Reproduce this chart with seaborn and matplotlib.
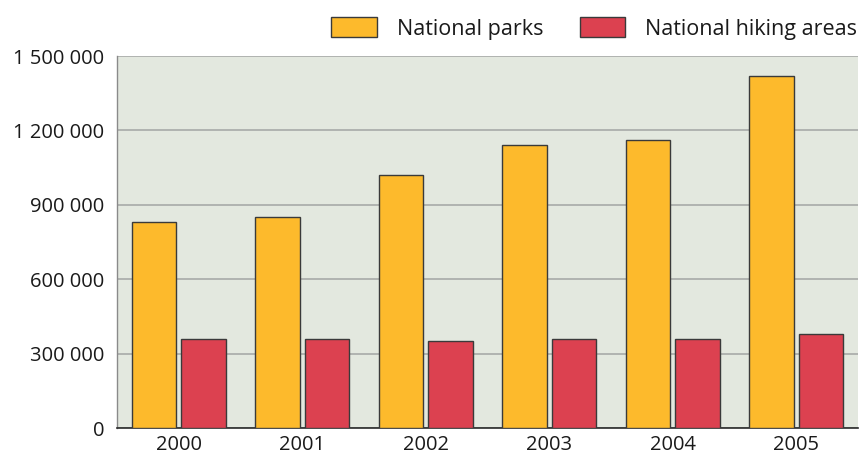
import matplotlib
matplotlib.use("Agg")
import matplotlib.pyplot as plt
import seaborn as sns
import pandas as pd
from matplotlib.ticker import FuncFormatter

years = ["2000", "2001", "2002", "2003", "2004", "2005"]
national_parks = [830000, 850000, 1020000, 1140000, 1160000, 1420000]
hiking_areas = [360000, 360000, 350000, 360000, 360000, 380000]
series_names = ["National parks", "National hiking areas"]
yticks = [0, 300000, 600000, 900000, 1200000, 1500000]

df = pd.DataFrame({
    "year": years * 2,
    "value": national_parks + hiking_areas,
    "series": [series_names[0]] * len(years) + [series_names[1]] * len(years),
})

sns.set_style("white")
plt.rcParams["font.family"] = ["Open Sans", "DejaVu Sans"]

fig = plt.figure(figsize=(8.61, 4.55), dpi=100)
ax = fig.add_axes([117 / 861, 1 - 428 / 455, 1 - 117 / 861 - 3 / 861, (428 - 56) / 455])
ax.set_facecolor("#E3E8DF")

palette = {series_names[0]: "#FDBA2C", series_names[1]: "#DC4150"}
sns.barplot(data=df, x="year", y="value", hue="series", palette=palette,
            width=0.8, gap=0.1, edgecolor="#3a3a3a", linewidth=1.0,
            saturation=1, ax=ax, zorder=3)

ax.set_ylim(0, 1500000)
ax.set_xlim(-0.5, 5.5)
ax.set_yticks(yticks)
ax.yaxis.set_major_formatter(FuncFormatter(lambda v, p: f"{int(v):,}".replace(",", " ")))
ax.grid(axis="y", color="#a8aaa8", linewidth=1.2, zorder=0)
ax.set_axisbelow(True)
ax.tick_params(axis="both", length=0, labelsize=14.5, colors="#1a1a1a")
ax.tick_params(axis="y", pad=9)
ax.tick_params(axis="x", pad=5)
ax.set_xlabel("")
ax.set_ylabel("")
for s in ["top", "right"]:
    ax.spines[s].set_visible(False)
ax.spines["left"].set_color("#8a8a8a")
ax.spines["left"].set_linewidth(1.0)
ax.spines["bottom"].set_color("#2a2a2a")
ax.spines["bottom"].set_linewidth(1.2)

handles, labels = ax.get_legend_handles_labels()
ax.get_legend().remove()
leg = fig.legend(handles, labels, loc="upper right", bbox_to_anchor=(1.012, 0.993),
                 ncol=2, frameon=False, fontsize=15.5, handlelength=2.1,
                 handleheight=1.07, handletextpad=0.93, columnspacing=1.72,
                 borderaxespad=0.25)
for t in leg.get_texts():
    t.set_color("#1a1a1a")

fig.savefig("out.png", dpi=100)
